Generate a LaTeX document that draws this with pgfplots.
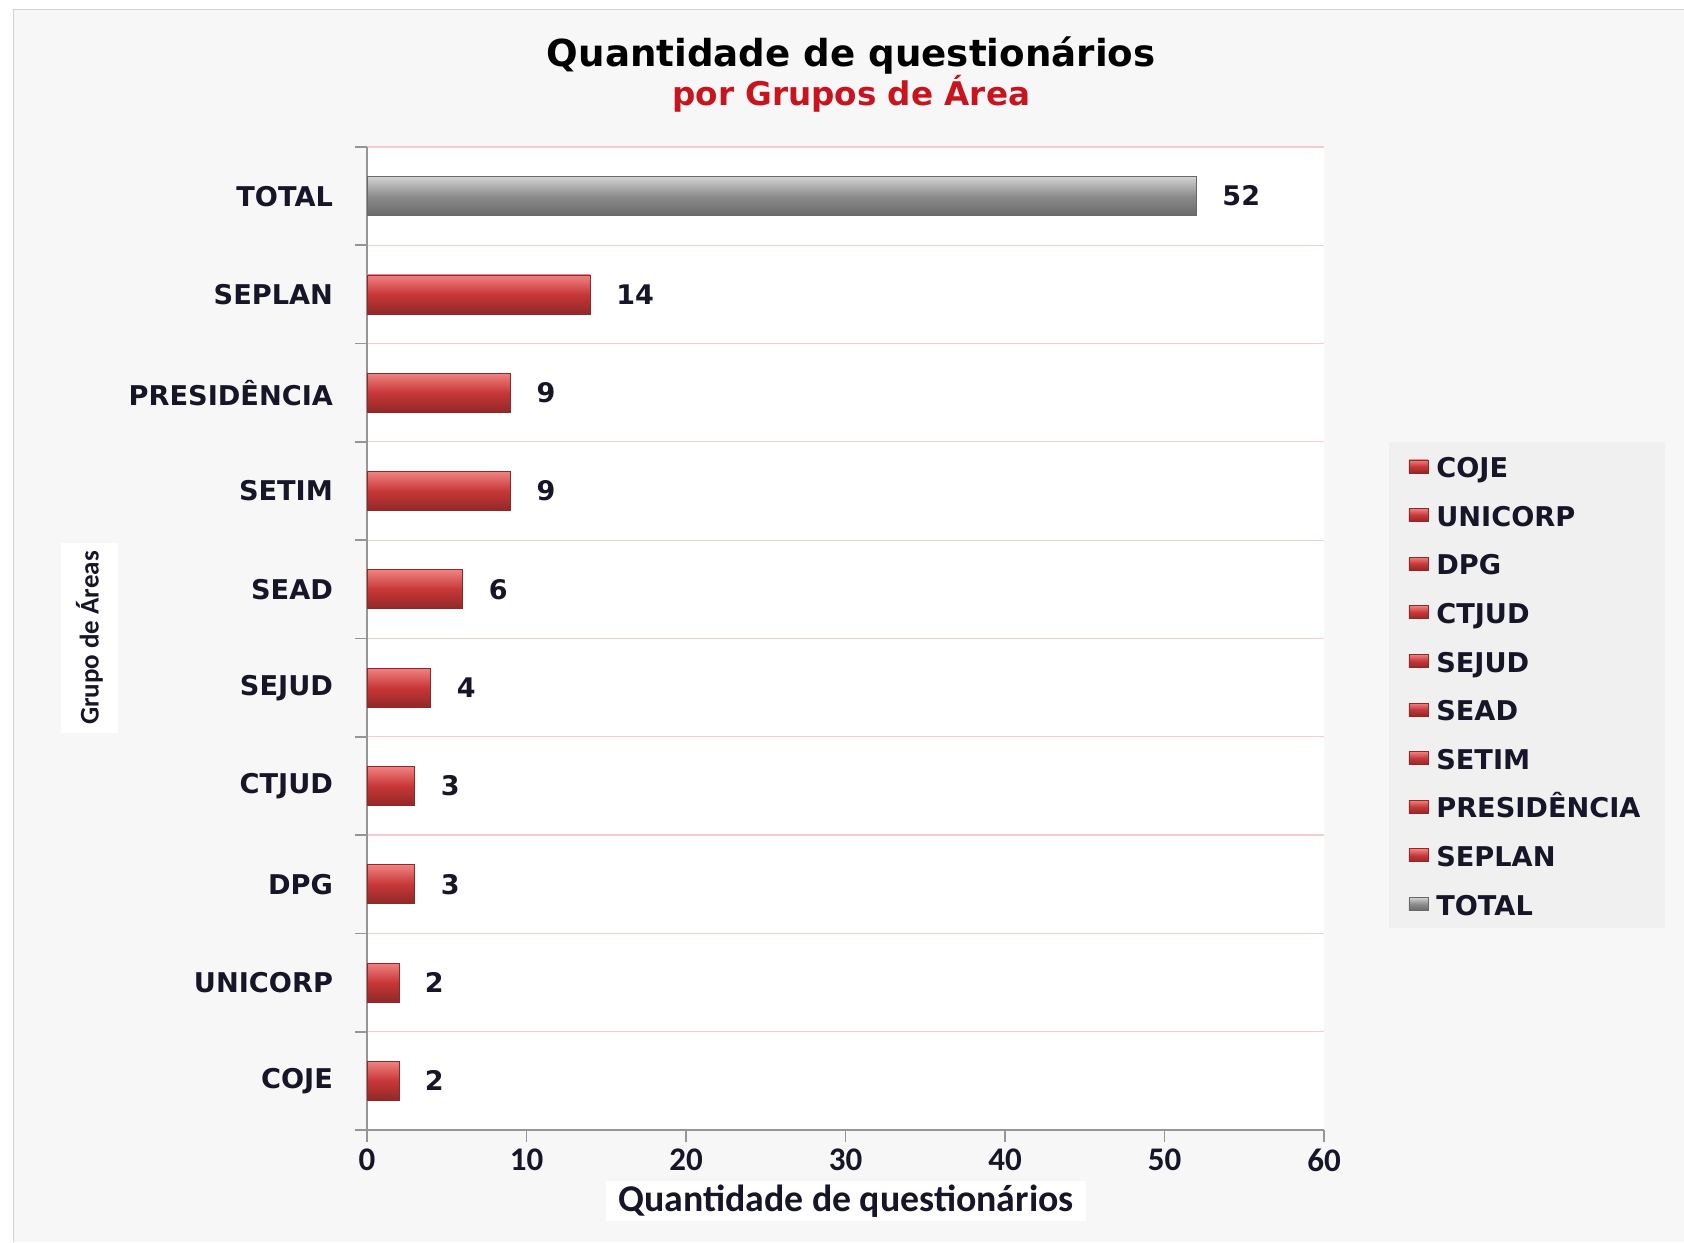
\documentclass[border=0pt]{standalone}
\usepackage{pgfplots}
\pgfplotsset{compat=1.18}
\usepackage{fontspec}
\setmainfont{DejaVu Sans}
\newfontfamily\calib{Carlito}
\definecolor{txt}{RGB}{22,22,40}
\definecolor{ttlred}{RGB}{200,20,30}
\definecolor{bg}{RGB}{247,247,247}
\definecolor{legbg}{RGB}{240,240,240}
\definecolor{gridpink}{RGB}{245,205,205}
\definecolor{axgray}{RGB}{150,150,150}
\definecolor{rtop}{RGB}{240,130,130}
\definecolor{rmid}{RGB}{200,55,55}
\definecolor{rbot}{RGB}{145,40,40}
\definecolor{gtop}{RGB}{210,210,210}
\definecolor{gmid}{RGB}{140,140,140}
\definecolor{gbot}{RGB}{105,105,105}
\pgfplotsset{
 redbar/.style={draw=rbot, line width=0.4pt, top color=rtop, bottom color=rbot, middle color=rmid},
 graybar/.style={draw=gbot, line width=0.4pt, top color=gtop, bottom color=gbot, middle color=gmid},
}
\newcommand{\catfont}{\fontsize{13.6}{16}\selectfont\bfseries}
\newcommand{\legent}[1]{\addlegendentry{\vphantom{ÊJ}#1}}
\begin{document}
\begin{tikzpicture}
\useasboundingbox (0,0) rectangle (842pt,621pt);
\fill[bg] (6.5pt,0) rectangle (842pt,616.5pt);
\draw[gray!35] (6.5pt,0) -- (6.5pt,616.5pt) -- (842pt,616.5pt);
\begin{axis}[
 at={(183.5pt,56pt)}, anchor=south west,
 scale only axis, width=478.5pt, height=491.5pt,
 xbar, bar width=19.5pt, bar shift=0pt,
 xmin=0, xmax=60, ymin=-0.5, ymax=9.5,
 axis lines=left,
 axis line style={draw=axgray, line width=0.9pt, -},
 axis background/.style={fill=white},
 xtick={0,10,...,60},
 tick align=outside, major tick length=6pt,
 tick style={draw=axgray, line width=0.9pt},
 ytick={-0.5,0.5,...,9.5}, yticklabels={},
 ymajorgrids, grid style={draw=gridpink, line width=0.6pt},
 extra y ticks={0,1,2,3,4,5,6,7,8,9},
 extra y tick labels={COJE,UNICORP,DPG,CTJUD,SEJUD,SEAD,SETIM,PRESIDÊNCIA,SEPLAN,TOTAL},
 extra y tick style={major tick length=0pt, grid=none},
 yticklabel style={font=\catfont, text=txt, xshift=-13.5pt},
 xticklabel style={font=\calib\bfseries\fontsize{16.5}{18}\selectfont, text=txt},
 /pgf/number format/assume math mode=true,
 nodes near coords, nodes near coords align={horizontal},
 every node near coord/.append style={font=\fontsize{13.5}{15}\selectfont\bfseries, text=txt, xshift=9.5pt},
 legend cell align=left,
 legend image code/.code={\draw[#1] (0pt,-3.25pt) rectangle (9.5pt,3.25pt);},
 legend style={at={(1.067,0.70)}, anchor=north west, fill=legbg, draw=none,
   font=\catfont, text=txt, row sep=6.2pt, column sep=2pt, inner xsep=10pt, inner ysep=3pt},
 clip=false,
]
\addplot[redbar] coordinates {(2,0)}; \legent{COJE}
\addplot[redbar] coordinates {(2,1)}; \legent{UNICORP}
\addplot[redbar] coordinates {(3,2)}; \legent{DPG}
\addplot[redbar] coordinates {(3,3)}; \legent{CTJUD}
\addplot[redbar] coordinates {(4,4)}; \legent{SEJUD}
\addplot[redbar] coordinates {(6,5)}; \legent{SEAD}
\addplot[redbar] coordinates {(9,6)}; \legent{SETIM}
\addplot[redbar] coordinates {(9,7)}; \legent{PRESIDÊNCIA}
\addplot[redbar] coordinates {(14,8)}; \legent{SEPLAN}
\addplot[graybar] coordinates {(52,9)}; \legent{TOTAL}
\node[font=\fontsize{18.6}{21}\selectfont\bfseries, text=black] at (axis description cs:0.506,1.093) {Quantidade de questionários};
\node[font=\fontsize{16.3}{19}\selectfont\bfseries, text=ttlred] at (axis description cs:0.506,1.0545) {por Grupos de Área};
\node[rotate=90, fill=white, inner xsep=4pt, inner ysep=7.5pt, font=\calib\bfseries\fontsize{13.5}{15}\selectfont, text=txt] at (axis description cs:-0.29,0.5005) {Grupo de Áreas};
\node[fill=white, inner xsep=6pt, inner ysep=2pt, font=\calib\bfseries\fontsize{18.9}{20}\selectfont, text=txt] at (axis description cs:0.5005,-0.0722) {Quantidade de questionários};
\end{axis}
\end{tikzpicture}
\end{document}
